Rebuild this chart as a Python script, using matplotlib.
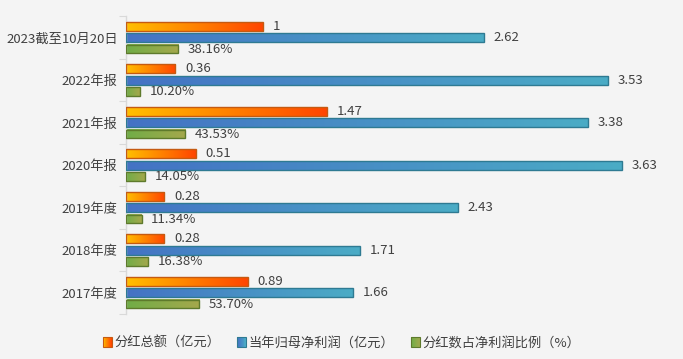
import numpy as np
import matplotlib
matplotlib.use('Agg')
import matplotlib.pyplot as plt
from matplotlib.colors import LinearSegmentedColormap
from matplotlib.patches import Rectangle
from matplotlib.legend_handler import HandlerBase

plt.rcParams['font.family'] = ['Noto Sans CJK SC', 'DejaVu Sans']

# data, top to bottom
categories = ['2023截至10月20日', '2022年报', '2021年报', '2020年报', '2019年度', '2018年度', '2017年度']
dividend = [1, 0.36, 1.47, 0.51, 0.28, 0.28, 0.89]
dividend_labels = ['1', '0.36', '1.47', '0.51', '0.28', '0.28', '0.89']
profit = [2.62, 3.53, 3.38, 3.63, 2.43, 1.71, 1.66]
profit_labels = ['2.62', '3.53', '3.38', '3.63', '2.43', '1.71', '1.66']
ratio = [38.16, 10.20, 43.53, 14.05, 11.34, 16.38, 53.70]
ratio_labels = ['38.16%', '10.20%', '43.53%', '14.05%', '11.34%', '16.38%', '53.70%']
series_names = ['分红总额（亿元）', '当年归母净利润（亿元）', '分红数占净利润比例（%）']

# gradient start, end, edge
styles = [
    ('#FFC000', '#FF4500', '#C55A11'),
    ('#4472C4', '#4BACC6', '#2E7A92'),
    ('#70AD47', '#A5A84C', '#5E7A2C'),
]

bg = '#F4F4F4'
text_color = '#404040'

fig = plt.figure(figsize=(6.83, 3.59), dpi=100, facecolor=bg)
ax = fig.add_axes([0.1845, 0.1259, 0.8, 0.8287], facecolor=bg)

pos = np.arange(len(categories))
offsets = [-0.27, 0.0, 0.27]
bar_h = 0.21
grad = np.linspace(0, 1, 256).reshape(1, -1)

values = [dividend, profit, [r / 100 for r in ratio]]
labels = [dividend_labels, profit_labels, ratio_labels]

for (c1, c2, ec), vals, labs, off in zip(styles, values, labels, offsets):
    cmap = LinearSegmentedColormap.from_list('g', [c1, c2])
    for y, v, lab in zip(pos, vals, labs):
        yc = y + off
        ax.imshow(grad, cmap=cmap, extent=[0, v, yc - bar_h / 2, yc + bar_h / 2],
                  aspect='auto', interpolation='bilinear', zorder=2)
        ax.add_patch(Rectangle((0, yc - bar_h / 2), v, bar_h, fill=False,
                               edgecolor=ec, linewidth=1.0, zorder=3))
        ax.annotate(lab, (v, yc), xytext=(7, 0), textcoords='offset points',
                    va='center', ha='left', fontsize=9.5, color=text_color)

ax.set_xlim(0, 4)
ax.set_ylim(len(categories) - 0.5, -0.5)

for s in ['top', 'right', 'bottom']:
    ax.spines[s].set_visible(False)
ax.spines['left'].set_color('#D9D9D9')
ax.spines['left'].set_linewidth(1.0)
ax.set_xticks([])
ax.set_yticks(np.arange(len(categories) + 1) - 0.5)
ax.set_yticklabels([])
ax.tick_params(axis='y', which='major', length=5, color='#D9D9D9')
ax.set_yticks(pos, minor=True)
ax.set_yticklabels(categories, minor=True, fontsize=9.5, color=text_color)
ax.tick_params(axis='y', which='minor', length=0, pad=6)


class GradientHandler(HandlerBase):
    def __init__(self, c1, c2, ec):
        super().__init__()
        self.c1, self.c2, self.ec = c1, c2, ec

    def create_artists(self, legend, orig_handle, xdescent, ydescent,
                       width, height, fontsize, trans):
        cmap = LinearSegmentedColormap.from_list('g', [self.c1, self.c2])
        s = height
        x0 = -xdescent + (width - s) / 2
        y0 = -ydescent
        n = 10
        arts = []
        for k in range(n):
            arts.append(Rectangle((x0 + k * s / n, y0), s / n, s, facecolor=cmap(k / (n - 1)),
                                  edgecolor='none', transform=trans))
        arts.append(Rectangle((x0, y0), s, s, fill=False, edgecolor=self.ec,
                              linewidth=0.8, transform=trans))
        return arts


handles = [Rectangle((0, 0), 1, 1) for _ in styles]
handler_map = {h: GradientHandler(*st) for h, st in zip(handles, styles)}
fig.legend(handles, series_names, handler_map=handler_map, loc='center',
           bbox_to_anchor=(0.5, 1 - 343 / 359), ncol=3, frameon=False,
           fontsize=9.5, labelcolor=text_color, handlelength=0.7, handleheight=0.7,
           handletextpad=0.15, columnspacing=1.3)

fig.savefig('out.png', dpi=100, facecolor=bg)
